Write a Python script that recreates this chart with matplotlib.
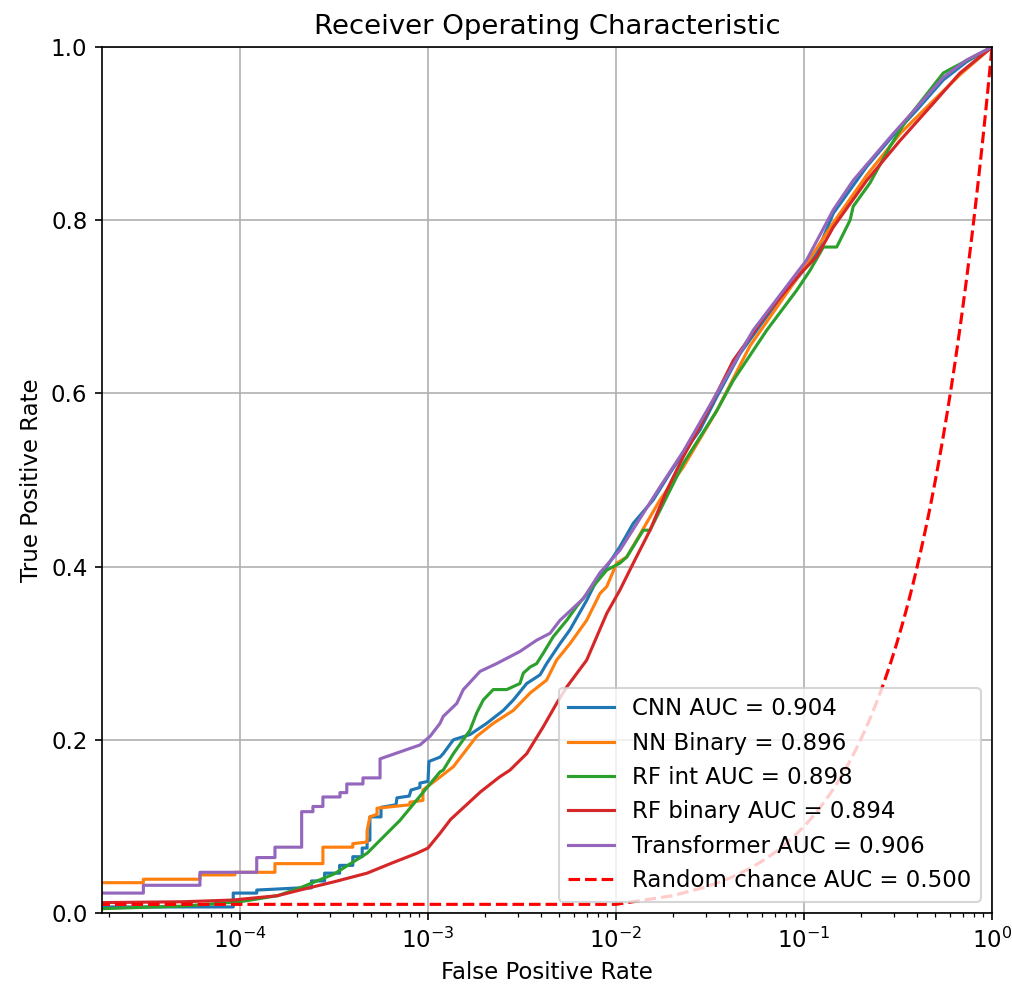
import numpy as np
import matplotlib
matplotlib.use("Agg")
import matplotlib.pyplot as plt

plt.rcParams['font.size'] = 11

# ---- Data (log10 of false positive rate, true positive rate) ----
cnn_logfpr = [-4.734, -4.036, -4.036, -3.911, -3.911, -3.681, -3.62, -3.62, -3.55, -3.55, -3.47, -3.47,
              -3.40, -3.40, -3.35, -3.35, -3.324, -3.324, -3.309, -3.309, -3.25, -3.25, -3.17, -3.165,
              -3.10, -3.09, -3.043, -3.043, -3.00, -2.995, -2.936, -2.919, -2.865, -2.777, -2.688,
              -2.599, -2.546, -2.475, -2.404, -2.369, -2.298, -2.245, -2.156, -2.085, -2.049, -1.979,
              -1.908, -1.802, -1.713, -1.642, -1.553, -1.464, -1.340, -1.198, -1.057, -0.932, -0.844,
              -0.666, -0.525, -0.401, -0.259, -0.135, 0.0]
cnn_tpr = [0.007, 0.007, 0.023, 0.023, 0.0265, 0.029, 0.029, 0.037, 0.037, 0.046, 0.046, 0.055,
           0.055, 0.065, 0.065, 0.075, 0.075, 0.084, 0.084, 0.111, 0.111, 0.122, 0.125, 0.133,
           0.135, 0.142, 0.145, 0.150, 0.152, 0.175, 0.180, 0.184, 0.200, 0.206, 0.219,
           0.234, 0.246, 0.265, 0.275, 0.288, 0.311, 0.327, 0.361, 0.392, 0.400, 0.423,
           0.450, 0.477, 0.508, 0.531, 0.558, 0.596, 0.646, 0.689, 0.727, 0.762, 0.808,
           0.862, 0.898, 0.927, 0.962, 0.983, 1.0]

nn_logfpr = [-4.734, -4.514, -4.514, -4.213, -4.213, -4.027, -4.027, -3.814, -3.814, -3.559, -3.559,
             -3.40, -3.40, -3.324, -3.324, -3.309, -3.271, -3.271, -3.096, -3.096, -3.027, -3.027,
             -2.936, -2.865, -2.812, -2.741, -2.653, -2.546, -2.457, -2.369, -2.316, -2.245, -2.156,
             -2.085, -2.049, -1.996, -1.943, -1.766, -1.642, -1.464, -1.287, -1.021, -0.844, -0.666,
             -0.489, -0.312, -0.170, 0.0]
nn_tpr = [0.035, 0.035, 0.039, 0.039, 0.044, 0.044, 0.047, 0.047, 0.057, 0.057, 0.076,
          0.076, 0.080, 0.082, 0.095, 0.111, 0.114, 0.121, 0.125, 0.128, 0.130, 0.142,
          0.157, 0.169, 0.184, 0.204, 0.219, 0.234, 0.254, 0.269, 0.292, 0.311, 0.338,
          0.369, 0.377, 0.404, 0.411, 0.477, 0.515, 0.580, 0.655, 0.738, 0.797, 0.852,
          0.900, 0.938, 0.968, 1.0]

rfint_logfpr = [-4.734, -4.3, -4.0, -3.8, -3.681, -3.5, -3.324, -3.149, -2.936, -2.919, -2.865,
                -2.777, -2.741, -2.706, -2.653, -2.581, -2.511, -2.493, -2.457, -2.422, -2.387,
                -2.334, -2.262, -2.209, -2.138, -2.049, -1.979, -1.943, -1.855, -1.819, -1.766,
                -1.642, -1.464, -1.376, -1.198, -1.039, -0.968, -0.897, -0.826, -0.755, -0.738,
                -0.649, -0.543, -0.454, -0.259, 0.0]
rfint_tpr = [0.005, 0.008, 0.013, 0.020, 0.029, 0.045, 0.069, 0.107, 0.163, 0.165, 0.184,
             0.211, 0.231, 0.246, 0.258, 0.258, 0.265, 0.277, 0.284, 0.288, 0.300,
             0.319, 0.338, 0.354, 0.373, 0.396, 0.404, 0.411, 0.442, 0.442, 0.465,
             0.519, 0.580, 0.615, 0.673, 0.719, 0.742, 0.769, 0.769, 0.800, 0.816,
             0.843, 0.885, 0.916, 0.970, 1.0]

rfbin_logfpr = [-4.734, -4.3, -4.036, -3.8, -3.681, -3.5, -3.324, -3.2, -3.059, -3.0, -2.936,
                -2.88, -2.81, -2.72, -2.62, -2.564, -2.475, -2.387, -2.316, -2.262, -2.156,
                -2.049, -1.979, -1.908, -1.819, -1.730, -1.642, -1.553, -1.464, -1.376, -1.287,
                -1.198, -1.021, -0.932, -0.844, -0.666, -0.489, -0.312, -0.170, 0.0]
rfbin_tpr = [0.012, 0.013, 0.015, 0.020, 0.0265, 0.036, 0.046, 0.057, 0.069, 0.075, 0.092,
             0.108, 0.122, 0.140, 0.157, 0.165, 0.184, 0.215, 0.242, 0.261, 0.292,
             0.346, 0.373, 0.404, 0.442, 0.488, 0.527, 0.562, 0.600, 0.638, 0.665,
             0.692, 0.738, 0.758, 0.792, 0.846, 0.892, 0.935, 0.970, 1.0]

tr_logfpr = [-4.734, -4.514, -4.514, -4.213, -4.213, -3.911, -3.911, -3.814, -3.814, -3.672, -3.672,
             -3.612, -3.612, -3.559, -3.559, -3.468, -3.468, -3.432, -3.432, -3.346, -3.346, -3.255,
             -3.255, -3.149, -3.043, -2.989, -2.936, -2.919, -2.847, -2.812, -2.723, -2.635, -2.511,
             -2.422, -2.351, -2.298, -2.174, -2.085, -1.979, -1.766, -1.642, -1.464, -1.270, -0.986,
             -0.844, -0.738, -0.525, -0.401, -0.259, -0.135, 0.0]
tr_tpr = [0.023, 0.023, 0.032, 0.032, 0.047, 0.047, 0.064, 0.064, 0.076, 0.076, 0.117,
          0.117, 0.123, 0.123, 0.134, 0.134, 0.139, 0.139, 0.149, 0.149, 0.156, 0.156,
          0.178, 0.186, 0.194, 0.204, 0.219, 0.227, 0.242, 0.258, 0.279, 0.288, 0.302,
          0.315, 0.323, 0.338, 0.363, 0.393, 0.419, 0.492, 0.533, 0.600, 0.673, 0.754,
          0.812, 0.846, 0.900, 0.930, 0.965, 0.985, 1.0]

labels = ["CNN AUC = 0.904", "NN Binary = 0.896", "RF int AUC = 0.898",
          "RF binary AUC = 0.894", "Transformer AUC = 0.906"]
chance_label = "Random chance AUC = 0.500"
chance_rate = np.linspace(0, 1, 101)

series = [(cnn_logfpr, cnn_tpr), (nn_logfpr, nn_tpr), (rfint_logfpr, rfint_tpr),
          (rfbin_logfpr, rfbin_tpr), (tr_logfpr, tr_tpr)]

fig = plt.figure(figsize=(1012 / 150, 996 / 150), dpi=150)
ax = fig.add_axes([102 / 1012, 1 - 913 / 996, 890 / 1012, 866 / 996])

for (lx, ty), lab in zip(series, labels):
    ax.plot(10 ** np.array(lx), ty, label=lab)
ax.plot(chance_rate, chance_rate, 'r--', label=chance_label)

ax.set_xscale('log')
ax.set_xlim(10 ** -4.734, 1)
ax.set_ylim(0, 1)
ax.grid(True)
ax.set_title('Receiver Operating Characteristic')
ax.set_xlabel('False Positive Rate')
ax.set_ylabel('True Positive Rate')
ax.legend(loc='lower right')

fig.savefig('out.png', dpi=150)
